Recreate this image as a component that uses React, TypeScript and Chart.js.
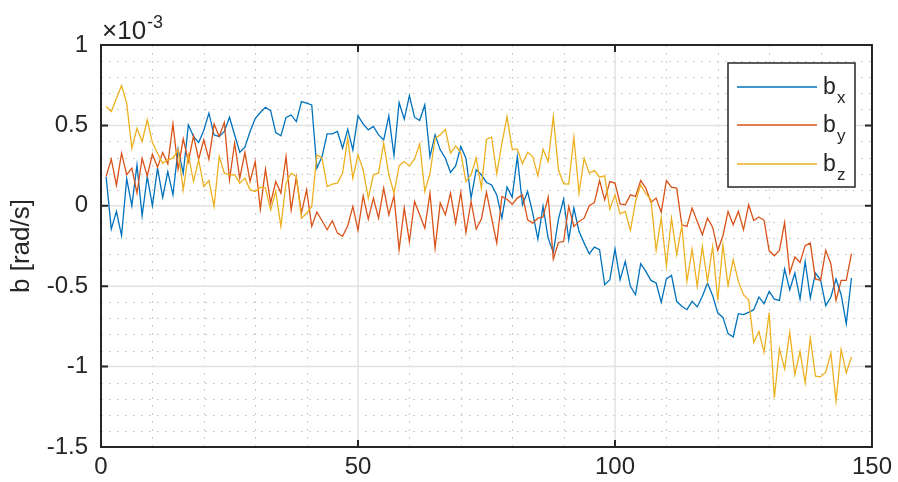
import React, { useEffect, useRef } from "react";
import { Chart, registerables } from "chart.js";

Chart.register(...registerables);

// Gyro bias estimates, in units of 1e-3 rad/s, sampled at t = 1..146
const bx = [
  0.18, -0.145, -0.035, -0.186, 0.168, 0.0, 0.253, -0.062, 0.182, 0.0,
  0.234, 0.052, 0.213, 0.068, 0.352, 0.203, 0.503, 0.431, 0.393, 0.47,
  0.576, 0.44, 0.431, 0.462, 0.551, 0.44, 0.333, 0.364, 0.462, 0.542,
  0.58, 0.613, 0.592, 0.455, 0.435, 0.549, 0.565, 0.524, 0.648, 0.638,
  0.627, 0.234, 0.306, 0.447, 0.447, 0.462, 0.358, 0.476, 0.348, 0.559,
  0.509, 0.472, 0.493, 0.441, 0.41, 0.559, 0.313, 0.642, 0.538, 0.685,
  0.551, 0.53, 0.627, 0.306, 0.441, 0.348, 0.296, 0.207, 0.248, 0.369,
  0.296, 0.048, 0.224, 0.193, 0.145, 0.13, 0.068, -0.077, 0.116, 0.054,
  0.306, 0.006, 0.089, -0.046, -0.207, -0.004, -0.201, -0.29, -0.083, 0.041,
  -0.211, -0.014, -0.159, -0.232, -0.298, -0.257, -0.273, -0.491, -0.46, -0.269,
  -0.46, -0.346, -0.501, -0.553, -0.36, -0.408, -0.464, -0.48, -0.6, -0.455,
  -0.433, -0.594, -0.625, -0.646, -0.594, -0.629, -0.563, -0.48, -0.559, -0.667,
  -0.694, -0.795, -0.816, -0.671, -0.677, -0.663, -0.646, -0.567, -0.609, -0.532,
  -0.58, -0.588, -0.393, -0.522, -0.418, -0.58, -0.346, -0.573, -0.418, -0.46,
  -0.621, -0.567, -0.455, -0.553, -0.733, -0.449,
];

const by = [
  0.182, 0.29, 0.128, 0.327, 0.193, 0.234, 0.079, 0.296, 0.186, 0.321,
  0.24, 0.331, 0.261, 0.509, 0.228, 0.416, 0.275, 0.435, 0.29, 0.41,
  0.29, 0.509, 0.431, 0.518, 0.161, 0.389, 0.172, 0.331, 0.151, 0.275,
  -0.021, 0.228, 0.017, 0.151, 0.079, 0.306, -0.025, 0.178, -0.046, 0.099,
  -0.128, -0.039, -0.093, -0.149, -0.093, -0.17, -0.19, -0.124, -0.004, -0.153,
  0.062, -0.083, 0.048, -0.077, 0.11, -0.056, 0.062, -0.273, -0.014, -0.222,
  0.027, -0.056, -0.139, 0.079, -0.263, 0.017, -0.056, 0.079, -0.108, 0.083,
  -0.166, 0.027, -0.145, -0.083, 0.083, -0.077, -0.232, 0.058, 0.041, 0.01,
  0.048, 0.068, -0.087, -0.108, -0.077, -0.07, 0.054, -0.331, -0.228, -0.222,
  -0.004, -0.128, -0.097, -0.077, 0.0, 0.021, 0.157, 0.037, 0.151, 0.141,
  0.012, 0.006, 0.068, 0.058, 0.157, 0.11, 0.021, 0.048, -0.04, 0.157,
  0.116, 0.11, -0.118, -0.128, -0.014, -0.097, -0.18, -0.077, -0.133, -0.277,
  -0.186, -0.035, -0.118, -0.035, -0.149, 0.006, -0.091, -0.07, -0.09, -0.28,
  -0.311, -0.277, -0.104, -0.418, -0.319, -0.352, -0.248, -0.232, -0.455, -0.464,
  -0.277, -0.36, -0.588, -0.464, -0.464, -0.298,
];

const bz = [
  0.617, 0.586, 0.669, 0.747, 0.638, 0.358, 0.482, 0.4, 0.534, 0.393,
  0.327, 0.265, 0.286, 0.296, 0.348, 0.099, 0.317, 0.151, 0.286, 0.12,
  0.157, -0.004, 0.306, 0.203, 0.193, 0.193, 0.141, 0.172, 0.099, 0.089,
  0.116, 0.11, -0.025, 0.089, -0.128, 0.141, 0.203, 0.182, -0.077, -0.046,
  -0.004, 0.317, 0.296, 0.12, 0.135, 0.141, 0.203, 0.42, 0.172, 0.317,
  0.224, 0.048, 0.193, 0.203, 0.39, 0.193, 0.079, 0.248, 0.275, 0.248,
  0.29, 0.385, 0.089, 0.199, 0.42, 0.441, 0.476, 0.327, 0.373, 0.331,
  0.151, 0.193, 0.298, 0.11, 0.414, 0.427, 0.199, 0.389, 0.555, 0.352,
  0.352, 0.261, 0.333, 0.306, 0.186, 0.352, 0.275, 0.555, 0.224, 0.137,
  0.135, 0.427, 0.079, 0.296, 0.203, 0.219, 0.178, 0.186, -0.021, 0.068,
  -0.05, -0.035, -0.153, 0.027, 0.13, 0.075, 0.037, -0.277, -0.075, -0.373,
  -0.077, -0.304, -0.124, -0.47, -0.269, -0.501, -0.253, -0.47, -0.253, -0.588,
  -0.242, -0.497, -0.335, -0.47, -0.553, -0.584, -0.849, -0.781, -0.911, -0.665,
  -1.195, -0.89, -1.014, -0.787, -1.05, -0.905, -1.101, -0.822, -1.06, -1.064,
  -1.035, -0.915, -1.215, -0.894, -1.039, -0.94,
];

const seriesNames = ["x", "y", "z"];
const seriesColors = ["#0072BD", "#D95319", "#EDB120"];
const xTicks = [0, 50, 100, 150];
const yTicks = [-1.5, -1, -0.5, 0, 0.5, 1];

const FONT = "'Liberation Sans', Arial, Helvetica, sans-serif";
const AXIS_COLOR = "#262626";
const TICK_SIZE = 24;

const toPoints = (arr: number[]) => arr.map((v, i) => ({ x: i + 1, y: v }));

// MATLAB-style axes: dotted minor grid, light major grid, boxed frame with
// inward ticks, exponent marker, y-axis title and a boxed legend.
const matlabAxes = {
  id: "matlabAxes",
  beforeDatasetsDraw(chart: any) {
    const { ctx, chartArea: a, scales } = chart;
    const xs = scales.x;
    const ys = scales.y;
    ctx.save();
    // minor grid
    ctx.strokeStyle = "#cdcdcd";
    ctx.lineWidth = 1;
    ctx.setLineDash([2, 6]);
    for (let v = 10; v < 150; v += 10) {
      if (v % 50 === 0) continue;
      const px = Math.round(xs.getPixelForValue(v)) + 0.5;
      ctx.beginPath();
      ctx.moveTo(px, a.bottom);
      ctx.lineTo(px, a.top);
      ctx.stroke();
    }
    for (let k = -14; k < 10; k++) {
      if (k % 5 === 0) continue;
      const py = Math.round(ys.getPixelForValue(k / 10)) + 0.5;
      ctx.beginPath();
      ctx.moveTo(a.left, py);
      ctx.lineTo(a.right, py);
      ctx.stroke();
    }
    // major grid
    ctx.setLineDash([]);
    ctx.strokeStyle = "#e2e2e2";
    ctx.lineWidth = 1.5;
    for (const v of xTicks) {
      if (v === 0 || v === 150) continue;
      const px = xs.getPixelForValue(v);
      ctx.beginPath();
      ctx.moveTo(px, a.bottom);
      ctx.lineTo(px, a.top);
      ctx.stroke();
    }
    for (const v of yTicks) {
      if (v === -1.5 || v === 1) continue;
      const py = ys.getPixelForValue(v);
      ctx.beginPath();
      ctx.moveTo(a.left, py);
      ctx.lineTo(a.right, py);
      ctx.stroke();
    }
    ctx.restore();
  },
  afterDatasetsDraw(chart: any) {
    const { ctx, chartArea: a, scales } = chart;
    const xs = scales.x;
    const ys = scales.y;
    ctx.save();
    ctx.strokeStyle = AXIS_COLOR;
    ctx.lineWidth = 2;
    // inward ticks
    const tl = 7;
    for (const v of xTicks) {
      if (v === 0 || v === 150) continue;
      const px = xs.getPixelForValue(v);
      ctx.beginPath();
      ctx.moveTo(px, a.bottom);
      ctx.lineTo(px, a.bottom - tl);
      ctx.moveTo(px, a.top);
      ctx.lineTo(px, a.top + tl);
      ctx.stroke();
    }
    for (const v of yTicks) {
      if (v === -1.5 || v === 1) continue;
      const py = ys.getPixelForValue(v);
      ctx.beginPath();
      ctx.moveTo(a.left, py);
      ctx.lineTo(a.left + tl, py);
      ctx.moveTo(a.right, py);
      ctx.lineTo(a.right - tl, py);
      ctx.stroke();
    }
    // frame
    ctx.strokeRect(a.left, a.top, a.right - a.left, a.bottom - a.top);

    // exponent marker
    ctx.fillStyle = AXIS_COLOR;
    ctx.textAlign = "left";
    ctx.textBaseline = "alphabetic";
    ctx.font = `26px ${FONT}`;
    const base = "\u00d710";
    ctx.fillText(base, a.left + 1, 39);
    const w = ctx.measureText(base).width;
    ctx.font = `18px ${FONT}`;
    ctx.fillText("-3", a.left + 1 + w + 1, 28);

    // y-axis title
    ctx.save();
    ctx.translate(22, (a.top + a.bottom) / 2);
    ctx.rotate(-Math.PI / 2);
    ctx.textAlign = "center";
    ctx.textBaseline = "middle";
    ctx.font = `26px ${FONT}`;
    ctx.fillText("b [rad/s]", 0, 0);
    ctx.restore();

    // legend
    const lx = 728, ly = 63, lw = 127, lh = 124;
    ctx.fillStyle = "#ffffff";
    ctx.fillRect(lx, ly, lw, lh);
    ctx.strokeStyle = AXIS_COLOR;
    ctx.lineWidth = 1.5;
    ctx.strokeRect(lx, ly, lw, lh);
    const rows = [87, 125, 164];
    rows.forEach((ry, i) => {
      ctx.strokeStyle = seriesColors[i];
      ctx.lineWidth = 1.5;
      ctx.beginPath();
      ctx.moveTo(737, ry);
      ctx.lineTo(817, ry);
      ctx.stroke();
      ctx.fillStyle = AXIS_COLOR;
      ctx.textAlign = "left";
      ctx.textBaseline = "alphabetic";
      ctx.font = `23px ${FONT}`;
      ctx.fillText("b", 823, ry + 7);
      ctx.font = `17px ${FONT}`;
      ctx.fillText(seriesNames[i], 837, ry + 16);
    });
    ctx.restore();
  },
};

export default function App() {
  const canvasRef = useRef<HTMLCanvasElement | null>(null);

  useEffect(() => {
    document.body.style.margin = "0";
    const canvas = canvasRef.current;
    if (!canvas) return;
    const chart = new Chart(canvas, {
      type: "line",
      data: {
        datasets: [bx, by, bz].map((arr, i) => ({
          label: "b" + seriesNames[i],
          data: toPoints(arr),
          borderColor: seriesColors[i],
          backgroundColor: seriesColors[i],
          borderWidth: 1.3,
          pointRadius: 0,
          tension: 0,
          fill: false,
          order: 3 - i,
        })),
      },
      options: {
        animation: false,
        responsive: false,
        devicePixelRatio: 1,
        layout: { padding: { left: 0, top: 45, right: 21, bottom: 0 } },
        plugins: {
          legend: { display: false },
          tooltip: { enabled: false },
        },
        scales: {
          x: {
            type: "linear",
            min: 0,
            max: 150,
            afterFit: (s: any) => {
              s.height = 35;
            },
            afterBuildTicks: (s: any) => {
              s.ticks = xTicks.map((v) => ({ value: v }));
            },
            grid: { display: false, drawTicks: false },
            border: { display: false },
            ticks: {
              padding: 6,
              color: AXIS_COLOR,
              font: { family: FONT, size: TICK_SIZE },
              maxRotation: 0,
              autoSkip: false,
              callback: (v: any) => String(v),
            },
          },
          y: {
            type: "linear",
            min: -1.5,
            max: 1,
            afterFit: (s: any) => {
              s.width = 101;
            },
            afterBuildTicks: (s: any) => {
              s.ticks = yTicks.map((v) => ({ value: v }));
            },
            grid: { display: false, drawTicks: false },
            border: { display: false },
            ticks: {
              padding: 13,
              color: AXIS_COLOR,
              font: { family: FONT, size: TICK_SIZE },
              autoSkip: false,
              callback: (v: any) => String(Math.round(Number(v) * 10) / 10),
            },
          },
        },
      },
      plugins: [matlabAxes],
    });
    return () => chart.destroy();
  }, []);

  return (
    <div style={{ width: 898, height: 482, background: "#ffffff" }}>
      <canvas ref={canvasRef} width={898} height={482} style={{ display: "block" }} />
    </div>
  );
}
